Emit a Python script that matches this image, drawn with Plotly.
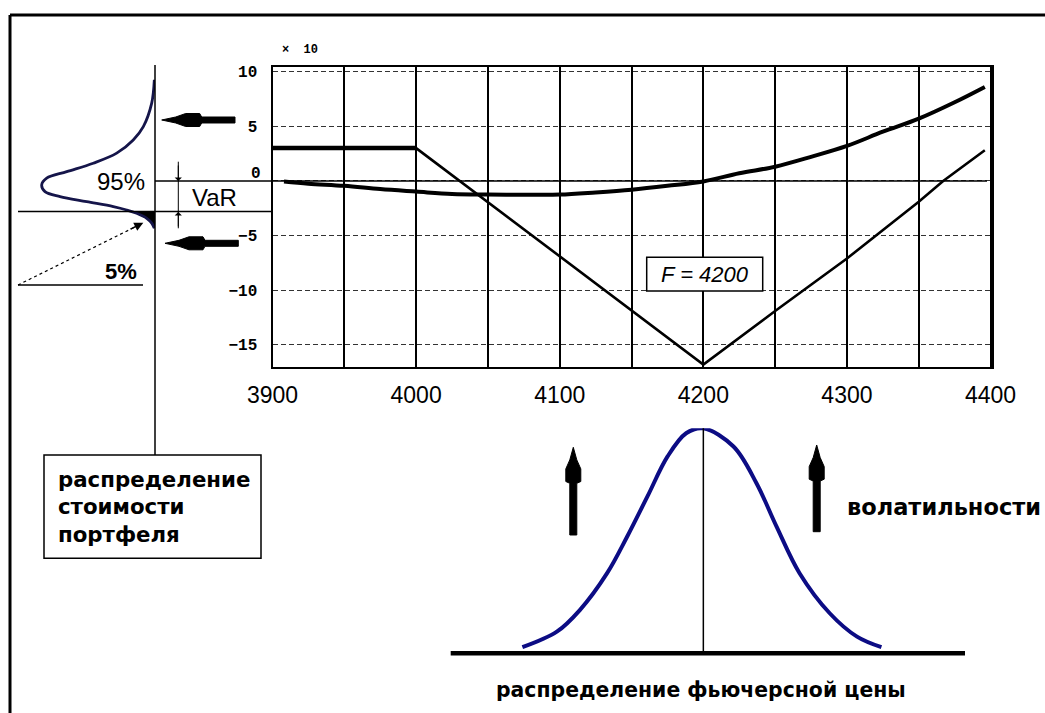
import math
import plotly.graph_objects as go

W, H = 1045, 713

# ---------------- data ----------------
# Payoff profile 1 (option position): flat, then V around F = 4200
pay1_flat_x = [3900, 4000]
pay1_flat_y = [3.0, 3.0]
pay1_v_x = [4000, 4050, 4100, 4150, 4200, 4250, 4300, 4350, 4367, 4396]
pay1_v_y = [3.0, -1.95, -6.9, -11.85, -16.8, -11.9, -7.1, -1.9, 0.0, 2.8]

# Payoff profile 2 (smooth curve)
pay2_x = [3908, 3925, 3950, 3975, 4000, 4025, 4050, 4075, 4100, 4125, 4150,
          4175, 4200, 4225, 4250, 4275, 4300, 4325, 4350, 4375, 4396]
pay2_y = [-0.05, -0.25, -0.45, -0.75, -0.98, -1.2, -1.25, -1.26, -1.25, -1.05, -0.8,
          -0.45, -0.05, 0.7, 1.3, 2.2, 3.2, 4.5, 5.7, 7.2, 8.6]

y_ticks = [-15, -10, -5, 0, 5, 10]
y_tick_text = ["\u221215", "\u221210", "\u22125", "", "5", "10"]
x_ticks = [3900, 4000, 4100, 4200, 4300, 4400]

# Portfolio value distribution (value, relative density)
port_val = [9.25, 7.12, 4.97, 3.75, 2.54, 1.62, 0.85, 0.25, -0.37, -0.98, -1.44,
            -1.90, -2.35, -2.66, -2.96, -3.42, -3.87, -4.33]
port_den = [0.006, 0.029, 0.103, 0.192, 0.338, 0.545, 0.779, 0.956, 1.0, 0.971, 0.838,
            0.603, 0.368, 0.250, 0.162, 0.073, 0.029, 0.006]
var_level = -2.8
var_den = 0.2

# Futures price distribution (price, relative density)
fut_price = [4074, 4098, 4114, 4133, 4147, 4161, 4175, 4188, 4200,
             4221, 4237, 4251, 4267, 4288, 4307, 4324]
fut_den = [0.027, 0.096, 0.192, 0.356, 0.519, 0.696, 0.874, 0.978, 1.0,
           0.919, 0.756, 0.563, 0.356, 0.178, 0.074, 0.027]
F_level = 4200

# ---------------- helpers (pixel -> paper) ----------------
def P(x):
    return x / W

def Q(y):
    return 1 - y / H

X_RANGE = [3900, 4401]
X_DOM = [P(272.5), P(992)]
Y_RANGE = [-17.0, 10.45]
Y_DOM = [Q(366.7), Q(66.7)]

fig = go.Figure()

BLACK = "black"
NAVY = "#0c0c84"

fig.add_trace(go.Scatter(x=pay1_flat_x, y=pay1_flat_y, mode="lines",
                         line=dict(color=BLACK, width=4.5), showlegend=False, hoverinfo="skip"))
fig.add_trace(go.Scatter(x=pay1_v_x, y=pay1_v_y, mode="lines",
                         line=dict(color=BLACK, width=2.6), showlegend=False, hoverinfo="skip"))
fig.add_trace(go.Scatter(x=pay2_x, y=pay2_y, mode="lines", line_shape="spline",
                         line=dict(color=BLACK, width=4), showlegend=False, hoverinfo="skip"))

# tail (5%) of portfolio distribution, filled black
tail_v = [var_level, var_level] + [v for v in port_val if v < var_level] + [port_val[-1], var_level]
tail_d = [0.0, var_den] + [d for v, d in zip(port_val, port_den) if v < var_level] + [0.0, 0.0]
fig.add_trace(go.Scatter(x=tail_d, y=tail_v, xaxis="x2", yaxis="y2", mode="lines",
                         fill="toself", fillcolor=BLACK, line=dict(color=BLACK, width=1),
                         showlegend=False, hoverinfo="skip"))
fig.add_trace(go.Scatter(x=port_den, y=port_val, xaxis="x2", yaxis="y2", mode="lines",
                         line_shape="spline", line=dict(color="#15154a", width=2.8),
                         showlegend=False, hoverinfo="skip"))

fig.add_trace(go.Scatter(x=fut_price, y=fut_den, xaxis="x3", yaxis="y3", mode="lines",
                         line_shape="spline", line=dict(color=NAVY, width=4),
                         showlegend=False, hoverinfo="skip"))

fig.update_layout(
    width=W, height=H,
    margin=dict(l=0, r=0, t=0, b=0, pad=0, autoexpand=False),
    paper_bgcolor="white", plot_bgcolor="rgba(0,0,0,0)",
    xaxis=dict(domain=X_DOM, range=X_RANGE, tickmode="array", tickvals=x_ticks,
               ticktext=[str(v) for v in x_ticks], showgrid=True, gridcolor=BLACK, gridwidth=1.5,
               minor=dict(tick0=3900, dtick=50, showgrid=True, gridcolor=BLACK, gridwidth=1.5),
               showline=True, mirror=True, linecolor=BLACK, linewidth=2, zeroline=False,
               ticks="", ticklabelstandoff=7, automargin=False,
               tickfont=dict(family="Liberation Sans, Arial", size=23, color=BLACK)),
    yaxis=dict(domain=Y_DOM, range=Y_RANGE, tickmode="array", tickvals=y_ticks,
               ticktext=y_tick_text,
               showgrid=True, gridcolor="#333", gridwidth=1, griddash="5px,3px",
               showline=True, mirror=True, linecolor=BLACK, linewidth=2, zeroline=False,
               ticks="", ticklabelstandoff=10, automargin=False,
               tickfont=dict(family="Liberation Mono, Courier New", size=16, color=BLACK,
                             weight="bold")),
    xaxis2=dict(domain=[0, P(155)], range=[155 / 113.3, 0], visible=False, anchor="y2",
                showgrid=False, zeroline=False, automargin=False),
    yaxis2=dict(domain=Y_DOM, range=Y_RANGE, visible=False, anchor="x2",
                showgrid=False, zeroline=False, automargin=False),
    xaxis3=dict(domain=X_DOM, range=X_RANGE, visible=False, anchor="y3",
                showgrid=False, zeroline=False, automargin=False),
    yaxis3=dict(domain=[Q(653.3), Q(428.3)], range=[0, 1], visible=False, anchor="x3",
                showgrid=False, zeroline=False, automargin=False),
)

shapes = []

def pline(x0, y0, x1, y1, w=1.5, dash=None):
    d = dict(type="line", xref="paper", yref="paper", x0=P(x0), y0=Q(y0), x1=P(x1), y1=Q(y1),
             line=dict(color=BLACK, width=w), layer="above")
    if dash:
        d["line"]["dash"] = dash
    shapes.append(d)

def arrow_shape(tip, tail, shaft_w, head_len, head_w):
    tx, ty = tip
    bx, by = tail
    L = math.hypot(bx - tx, by - ty)
    ux, uy = (bx - tx) / L, (by - ty) / L
    nx, ny = -uy, ux
    pts = [
        (0, 0),
        (head_len * 0.35, shaft_w * 0.5),
        (head_len * 0.6, head_w * 0.5),
        (head_len * 0.95, head_w * 0.5),
        (head_len, shaft_w * 0.5),
        (L, shaft_w * 0.5),
        (L, -shaft_w * 0.5),
        (head_len, -shaft_w * 0.5),
        (head_len * 0.95, -head_w * 0.5),
        (head_len * 0.6, -head_w * 0.5),
        (head_len * 0.35, -shaft_w * 0.5),
    ]
    coords = []
    for a, b in pts:
        px = tx + ux * a + nx * b
        py = ty + uy * a + ny * b
        coords.append(f"{P(px):.5f},{Q(py):.5f}")
    path = "M " + " L ".join(coords) + " Z"
    shapes.append(dict(type="path", xref="paper", yref="paper", path=path,
                       fillcolor=BLACK, line=dict(color=BLACK, width=1), layer="above"))

# outer frame
pline(10, 15, 1045, 15, w=3)
pline(10, 15, 10, 713, w=3)
# left distribution axis
pline(155, 65, 155, 455, w=1.5)
# zero line (extends to the left distribution)
shapes.append(dict(type="line", xref="paper", yref="y", x0=P(155), x1=P(987), y0=0, y1=0,
                   line=dict(color=BLACK, width=1.5), layer="above"))
# VaR level line
shapes.append(dict(type="line", xref="paper", yref="y", x0=P(18), x1=P(273), y0=var_level,
                   y1=var_level, line=dict(color=BLACK, width=1.5), layer="above"))
# 5% underline and dotted leader
pline(18, 285, 143, 285, w=1.5)
pline(18, 285, 137, 226, w=1.2, dash="dot")
# VaR dimension line
pline(178.3, 161.7, 178.3, 228.3, w=1)
# label box
shapes.append(dict(type="rect", xref="paper", yref="paper", x0=P(44), x1=P(261),
                   y0=Q(558.3), y1=Q(455), line=dict(color=BLACK, width=1.5),
                   fillcolor="white", layer="above"))
# F = 4200 box
shapes.append(dict(type="rect", xref="paper", yref="paper", x0=P(646.7), x1=P(762.7),
                   y0=Q(291), y1=Q(257.3), line=dict(color=BLACK, width=1.5),
                   fillcolor="white", layer="above"))
# bell center line and base
shapes.append(dict(type="line", xref="x3", yref="y3", x0=F_level, x1=F_level, y0=0, y1=1.052,
                   line=dict(color=BLACK, width=1.5), layer="above"))
pline(450.7, 653.3, 965, 653.3, w=4.5)

# heavy arrows
arrow_shape((161.7, 120), (235, 120), 6, 40, 13)
arrow_shape((165, 243.3), (238.3, 243.3), 6, 40, 13)
arrow_shape((573.3, 447.3), (573.3, 535), 7, 36, 15)
arrow_shape((816.7, 445), (816.7, 531.7), 7, 36, 15)

fig.update_layout(shapes=shapes)

ann = []

def arrow(tipx, tipy, tailx, taily, w=1, head=1, size=1.0):
    ann.append(dict(xref="paper", yref="paper", x=P(tipx), y=Q(tipy), text="",
                    showarrow=True, axref="pixel", ayref="pixel",
                    ax=tailx - tipx, ay=taily - tipy, arrowhead=head, arrowsize=size,
                    arrowwidth=w, arrowcolor=BLACK, standoff=0, startstandoff=0))

def text(x, y, s, size=22, xanchor="center", family="Liberation Sans, Arial", weight="normal"):
    ann.append(dict(xref="paper", yref="paper", x=P(x), y=Q(y), text=s, showarrow=False,
                    xanchor=xanchor, yanchor="middle",
                    font=dict(family=family, size=size, color=BLACK, weight=weight)))

arrow(178.3, 181, 178.3, 164, w=1, head=1, size=1.2)
arrow(178.3, 212, 178.3, 228, w=1, head=1, size=1.2)
arrow(143.3, 222.7, 129, 229.8, w=1.5, head=2, size=1.2)

text(121, 181, "95%", size=24)
text(214, 197, "VaR", size=24)
text(121, 271, "5%", size=22, weight="bold")
text(704.7, 274, "<i>F = 4200</i>", size=22)
text(300, 50, "\u00d7  10", size=12, family="Liberation Mono, Courier New", weight="bold")
text(263, 174, "0", size=16, xanchor="right", family="Liberation Mono, Courier New", weight="bold")
text(55.7, 479.3, "распределение", size=21.3, xanchor="left", family="DejaVu Sans", weight="bold")
text(55.7, 506.7, "стоимости", size=21.3, xanchor="left", family="DejaVu Sans", weight="bold")
text(55.7, 534, "портфеля", size=21.3, xanchor="left", family="DejaVu Sans", weight="bold")
text(845, 506.7, "волатильности", size=22.5, xanchor="left", family="DejaVu Sans", weight="bold")
text(701, 690, "распределение фьючерсной цены", size=20.4, family="DejaVu Sans", weight="bold")

fig.update_layout(annotations=ann)

fig.write_html("out.html", config={"displayModeBar": False},
               post_script="document.body.style.margin='0px';")
